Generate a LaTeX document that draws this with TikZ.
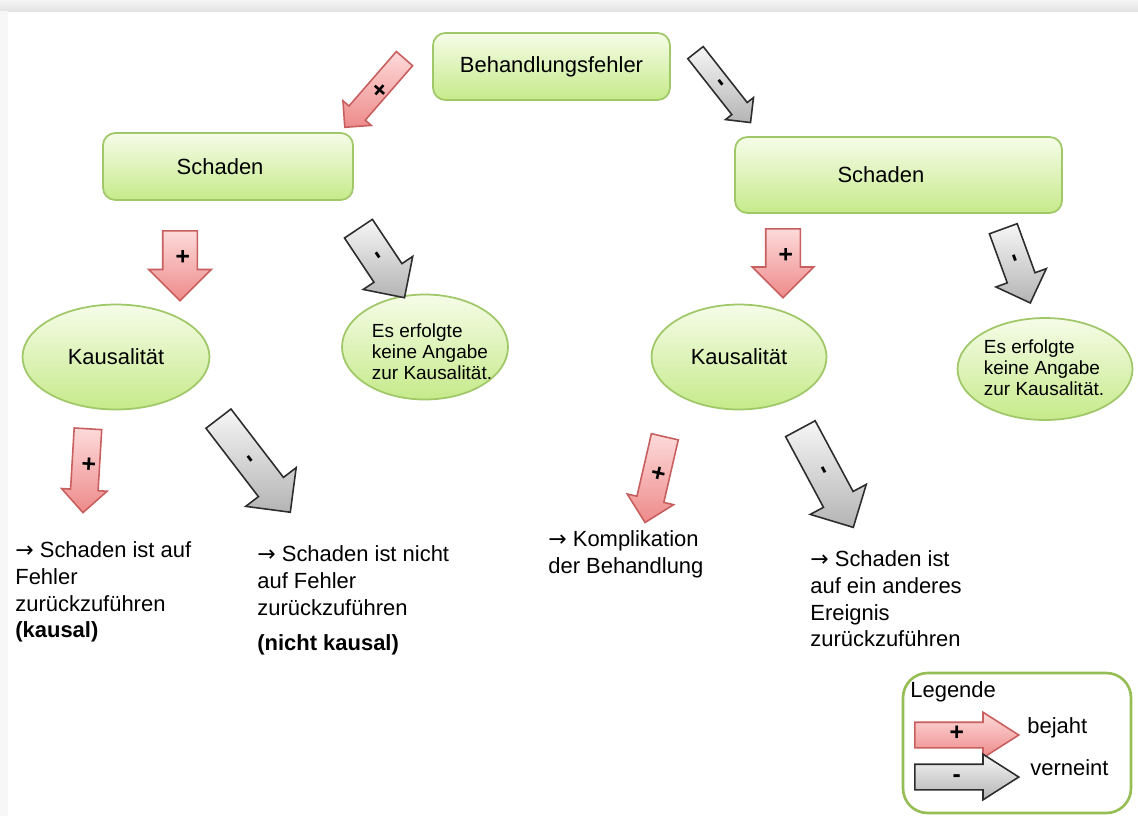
\documentclass[tikz,border=0pt]{standalone}
\usepackage{fontspec}
\setmainfont{Liberation Sans}
\newfontfamily\arrfont{DejaVu Sans}
\usetikzlibrary{shapes.geometric,shapes.arrows}
\definecolor{gtop}{RGB}{246,252,232}
\definecolor{gbot}{RGB}{198,234,138}
\definecolor{gborder}{RGB}{160,200,105}
\definecolor{pktop}{RGB}{253,218,218}
\definecolor{pkbot}{RGB}{238,138,138}
\definecolor{pkborder}{RGB}{200,95,95}
\definecolor{grtop}{RGB}{246,246,246}
\definecolor{grbot}{RGB}{180,180,180}
\definecolor{grborder}{RGB}{45,45,45}
\definecolor{legborder}{RGB}{150,190,85}
\newcommand\ra{{\arrfont →}}
\begin{document}
\begin{tikzpicture}[x=0.02cm,y=-0.02cm,
 gbox/.style={draw=gborder, line width=1pt, rounded corners=7pt, top color=gtop, bottom color=gbot, font=\fontsize{12.5}{15}\selectfont},
 gell/.style={ellipse, draw=gborder, line width=1pt, top color=gtop, bottom color=gbot, inner sep=0pt},
 barr/.style n args={3}{single arrow, anchor=tail, minimum height=#3cm, inner xsep=2pt, inner ysep={(#1cm-8pt)/2}, single arrow head extend={(#2cm-#1cm)/2}, text height=7pt, text depth=1pt, font=\fontsize{14}{14}\selectfont\bfseries, line width=0.9pt},
 pinkarr/.style={draw=pkborder, top color=pktop, bottom color=pkbot},
 grayarr/.style={draw=grborder, top color=grtop, bottom color=grbot},
 txt/.style={anchor=north west, align=left, inner sep=0pt, font=\fontsize{12.5}{15.3}\selectfont},
 small/.style={align=left, inner sep=0pt, font=\fontsize{10.8}{12}\selectfont},
]
\useasboundingbox (0,0) rectangle (1138,816);
\fill[white] (0,0) rectangle (1138,816);
\shade[top color=gray!8, bottom color=gray!22] (0,0) rectangle (1138,11);
\fill[gray!6] (0,11) rectangle (8,816);

% boxes
\node[gbox, minimum width=4.74cm, minimum height=1.34cm] (top) at (551.5,66.5) {Behandlungsfehler};
\node[gbox, minimum width=5cm, minimum height=1.34cm] (schL) at (228,166.5) {Schaden\rule{9pt}{0pt}};
\node[gbox, minimum width=6.54cm, minimum height=1.52cm] (schR) at (898.5,175) {Schaden\rule{20pt}{0pt}};

% ellipses
\node[gell, minimum width=3.74cm, minimum height=2.1cm, font=\fontsize{12.5}{15}\selectfont] (kauL) at (116,357) {Kausalität};
\node[gell, minimum width=3.32cm, minimum height=2.1cm] (keinL) at (425,347) {};
\node[small] (keinLt) at (432,352) {Es erfolgte\\keine Angabe\\zur Kausalität.};
\node[gell, minimum width=3.5cm, minimum height=2.1cm, font=\fontsize{12.5}{15}\selectfont] (kauR) at (739,357) {Kausalität};
\node[gell, minimum width=3.5cm, minimum height=2.04cm] (keinR) at (1045,369) {};
\node[small] (keinRt) at (1044,368) {Es erfolgte\\keine Angabe\\zur Kausalität.};

% block arrows (placed by their tails)
\node[barr={0.40}{0.72}{1.82}, pinkarr, rotate=229] (a1) at (405,58) {+};
\node[barr={0.36}{0.68}{1.78}, grayarr, rotate=-51.8] (a2) at (695,52) {-};
\node[barr={0.66}{1.22}{1.40}, pinkarr, rotate=-90] (a3) at (180,230) {+};
\node[barr={0.64}{1.16}{1.66}, grayarr, rotate=-56.3] (a4) at (358,228) {-};
\node[barr={0.66}{1.20}{1.38}, pinkarr, rotate=-90] (a5) at (783,228) {+};
\node[barr={0.56}{1.04}{1.58}, grayarr, rotate=-70] (a6) at (1003,228) {-};
\node[barr={0.52}{0.88}{1.68}, pinkarr, rotate=-93.4] (a7) at (88,428) {+};
\node[barr={0.60}{1.24}{2.36}, grayarr, rotate=-52.5] (a8) at (218,418) {-};
\node[barr={0.52}{0.92}{1.76}, pinkarr, rotate=-103] (a9) at (665,436) {+};
\node[barr={0.64}{1.24}{2.24}, grayarr, rotate=-61.8] (a10) at (800,428) {-};

% outcome texts
\node[txt] (t1) at (15,541) {\ra\ Schaden ist auf\\Fehler\\zurückzuführen\\\textbf{(kausal)}};
\node[txt] (t2) at (257,545) {\ra\ Schaden ist nicht\\auf Fehler\\zurückzuführen\\[5pt]\textbf{(nicht kausal)}};
\node[txt] (t3) at (548,530) {\ra\ Komplikation\\der Behandlung};
\node[txt] (t4) at (810,550) {\ra\ Schaden ist\\auf ein anderes\\Ereignis\\zurückzuführen};

% legend
\node[draw=legborder, line width=1.5pt, rounded corners=14pt, minimum width=4.56cm, minimum height=2.8cm] (legend) at (1017,743) {};
\node[anchor=west, inner sep=0pt, font=\fontsize{12.5}{15}\selectfont] (legt) at (910,692) {Legende};
\node[barr={0.48}{0.88}{2.08}, pinkarr, single arrow tip angle=65] (lp) at (914,735) {+};
\node[barr={0.48}{0.88}{2.08}, grayarr, single arrow tip angle=65] (ln) at (914,777) {-};
\node[anchor=west, inner sep=0pt, font=\fontsize{12.5}{15}\selectfont] (lpt) at (1027,728) {bejaht};
\node[anchor=west, inner sep=0pt, font=\fontsize{12.5}{15}\selectfont] (lnt) at (1030,768) {verneint};
\end{tikzpicture}
\end{document}
